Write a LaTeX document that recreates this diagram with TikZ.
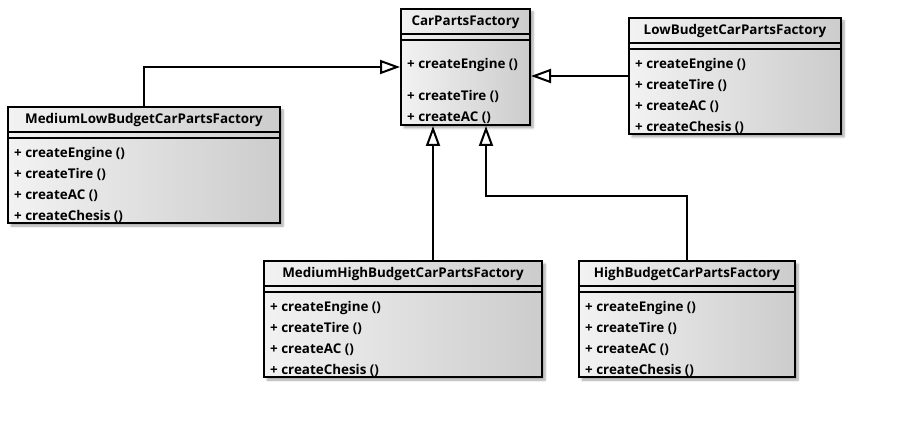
\documentclass[tikz,border=0pt]{standalone}
\usepackage{fontspec}
\setmainfont{Open Sans}
\usetikzlibrary{arrows.meta,shadows.blur,calc}
\tikzset{
  cls/.style={draw=black, line width=2pt, rectangle, inner sep=0pt, anchor=north west,
    left color=white!95!black, right color=white!80!black,
    blur shadow={shadow xshift=3pt, shadow yshift=-3pt, shadow opacity=35, shadow blur steps=6}},
  sepline/.style={line width=1.6pt},
  ttl/.style={font=\bfseries\fontsize{13.4}{15}\selectfont, inner sep=0pt},
  op/.style={font=\bfseries\fontsize{13.4}{15}\selectfont, anchor=mid west, inner sep=0pt},
  inh/.style={line width=2pt, -{Triangle[length=20pt, width=14pt, fill=white, line width=2pt]}}
}
\newcommand\mkclass[5]{%
  \node[cls, minimum width=#4pt, minimum height=116pt] (#1) at (#2,#3) {};
  \node[ttl] (#1-t) at ($(#1.north)+(0,14.5)$) {#5};
  \draw[sepline] ($(#1.north west)+(0,26)$) -- ($(#1.north east)+(0,26)$);
  \draw[sepline] ($(#1.north west)+(0,32)$) -- ($(#1.north east)+(0,32)$);
  \node[op] (#1-r1) at ($(#1.north west)+(7,49)$) {+ createEngine ()};
  \node[op] (#1-r2) at ($(#1.north west)+(7,69.5)$) {+ createTire ()};
  \node[op] (#1-r3) at ($(#1.north west)+(7,90.5)$) {+ createAC ()};
  \node[op] (#1-r4) at ($(#1.north west)+(7,111.5)$) {+ createChesis ()};
}
\begin{document}
\begin{tikzpicture}[x=1pt, y=-1pt]
\useasboundingbox (0,0) rectangle (897,443);
% abstract factory
\node[cls, minimum width=129pt, minimum height=116pt] (cpf) at (400,8) {};
\node[ttl] (cpf-t) at ($(cpf.north)+(0,14.5)$) {CarPartsFactory};
\draw[sepline] ($(cpf.north west)+(0,26)$) -- ($(cpf.north east)+(0,26)$);
\draw[sepline] ($(cpf.north west)+(0,32)$) -- ($(cpf.north east)+(0,32)$);
\node[op] (cpf-r1) at ($(cpf.north west)+(7,58)$) {+ createEngine ()};
\node[op] (cpf-r2) at ($(cpf.north west)+(7,90)$) {+ createTire ()};
\node[op] (cpf-r3) at ($(cpf.north west)+(7,111)$) {+ createAC ()};
% concrete factories
\mkclass{lb}{628}{17}{212}{LowBudgetCarPartsFactory}
\mkclass{ml}{7}{106}{272}{MediumLowBudgetCarPartsFactory}
\mkclass{mh}{263}{260}{278}{MediumHighBudgetCarPartsFactory}
\mkclass{hb}{578}{260}{216}{HighBudgetCarPartsFactory}
% connectors
\coordinate (cpfL) at ($(cpf.south)+(-32.5,0)$);
\coordinate (cpfR) at ($(cpf.south)+(20.5,0)$);
\coordinate (hbBend) at (hb.north |- 0,196);
\draw[inh] (ml.north) |- (cpf.west);
\draw[inh] (lb.west) -- (lb.west -| cpf.east);
\draw[inh] (mh.north -| cpfL) -- (cpfL);
\draw[inh] (hb.north) -- (hbBend) -| (cpfR);
\end{tikzpicture}
\end{document}
